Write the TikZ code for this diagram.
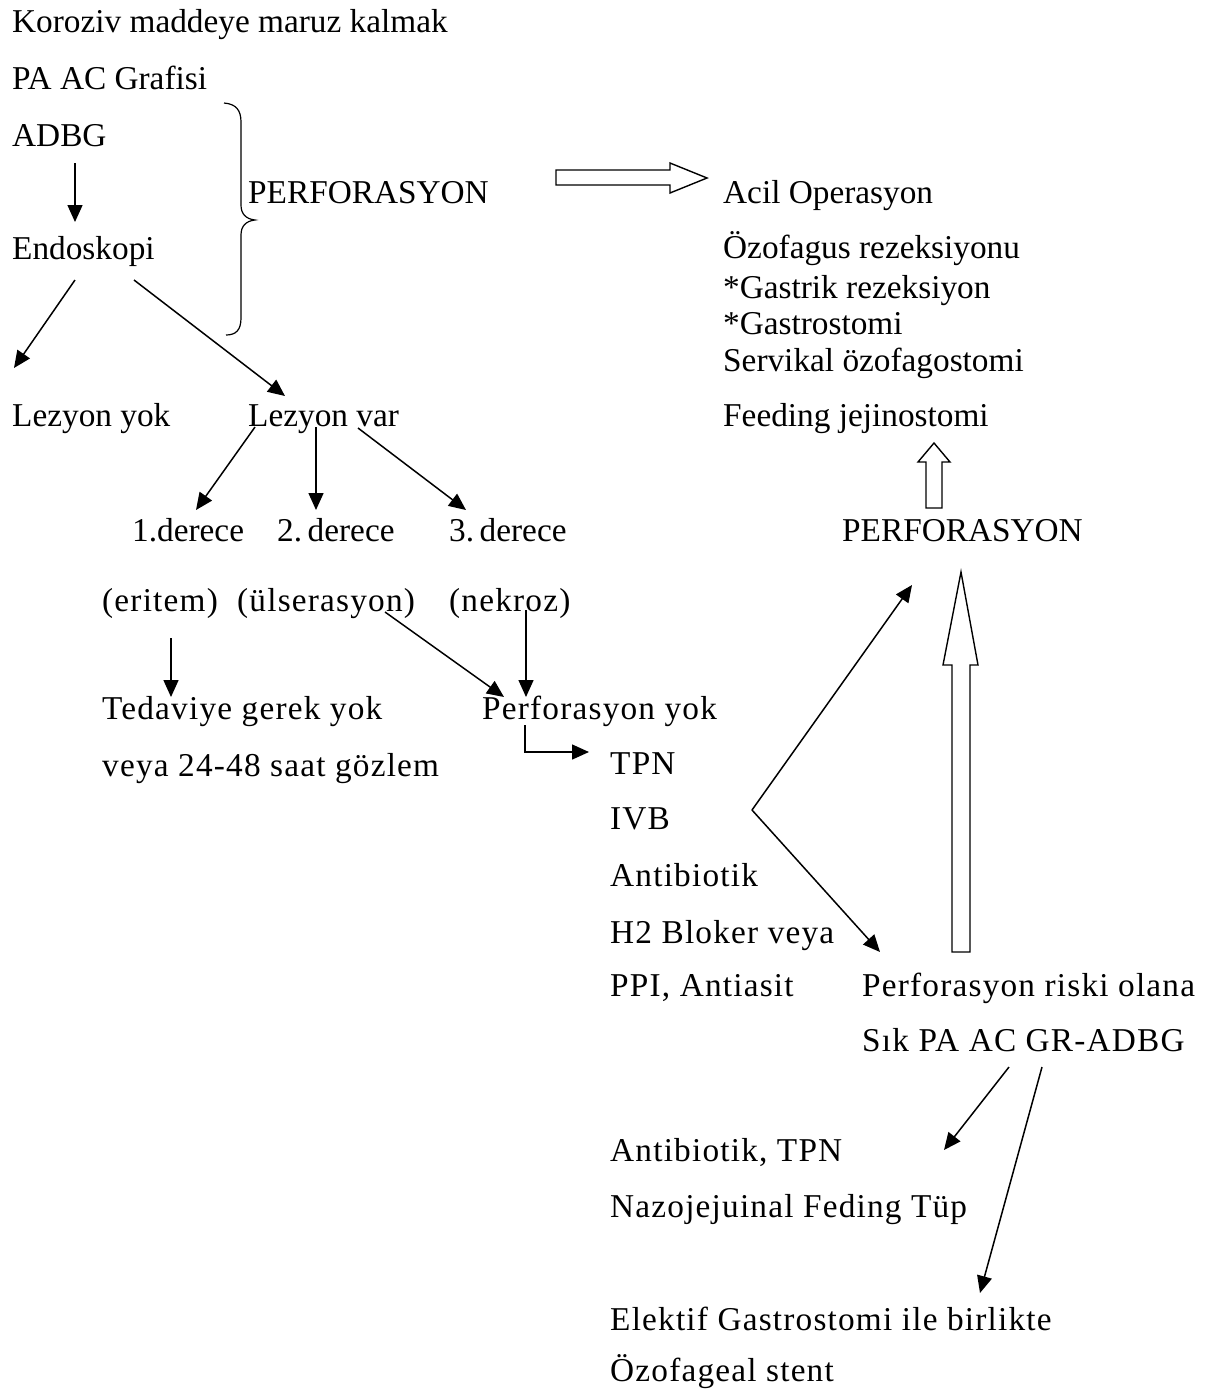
\documentclass[tikz,border=0pt]{standalone}
\usepackage{fontspec}
\setmainfont{Liberation Serif}
\usepackage{tikz}
\usetikzlibrary{calc,arrows.meta}
\tikzset{
  lbl/.style={anchor=base west,inner sep=0pt,font=\fontsize{33.3}{40}\selectfont},
  lblw/.style={lbl,font=\fontsize{33.3}{40}\selectfont\addfontfeatures{LetterSpace=3.6}},
  arr/.style={-{Triangle[length=17pt,width=15pt]},line width=1.5pt},
  hollow/.style={line width=1.4pt,fill=white,line join=miter},
  curly/.style={line width=1.2pt}
}

\begin{document}
\begin{tikzpicture}[x=1pt,y=-1pt]
  \useasboundingbox (0,0) rectangle (1211,1390);

  % First steps
  \node[lbl] (kor)  at (12,32)  {Koroziv maddeye maruz kalmak};
  \node[lbl] (pa)   at (12,89)  {PA AC Grafisi};
  \node[lbl] (adbg) at (12,146) {ADBG};
  \node[lbl] (endo) at (12,259) {Endoskopi};
  \node[lbl] (perf1) at (248,203) {PERFORASYON};

  % Brace
  \draw[curly] (224,103) .. controls (236,104) and (241,110) .. (241,122)
    -- (241,205) .. controls (241,214) and (246,219) .. (255,220)
    .. controls (246,221) and (241,226) .. (241,235)
    -- (241,318) .. controls (241,330) and (236,335) .. (226,335);

  % Emergency operation
  \node[lbl] (acil) at (723,203) {Acil Operasyon};
  \node[lbl] (ozo)  at (723,258) {Özofagus rezeksiyonu};
  \node[lbl] (gas)  at (723,298) {*Gastrik rezeksiyon};
  \node[lbl] (gsto) at (723,334) {*Gastrostomi};
  \node[lbl] (serv) at (723,371) {Servikal özofagostomi};
  \node[lbl] (feed) at (723,426) {Feeding jejinostomi};

  % Lesion
  \node[lbl] (lyok) at (12,426)  {Lezyon yok};
  \node[lbl] (lvar) at (248,426) {Lezyon var};
  \node[lbl] (d1) at (132,541) {1.derece};
  \node[lbl] (d2) at (277,541) {2.\,derece};
  \node[lbl] (d3) at (449,541) {3.\,derece};
  \node[lblw] (eri) at (102,611) {(eritem)};
  \node[lblw] (uls) at (237,611) {(ülserasyon)};
  \node[lblw] (nek) at (449,611) {(nekroz)};
  \node[lblw] (ted)  at (102,719) {Tedaviye gerek yok};
  \node[lblw] (veya) at (102,776) {veya 24-48 saat gözlem};
  \node[lblw] (pyok) at (482,719) {Perforasyon yok};

  % Treatment
  \node[lblw] (tpn)  at (610,774) {TPN};
  \node[lblw] (ivb)  at (610,829) {IVB};
  \node[lblw] (anti) at (610,886) {Antibiotik};
  \node[lblw] (h2)   at (610,943) {H2 Bloker veya};
  \node[lblw] (ppi)  at (610,996) {PPI, Antiasit};

  % Risk of perforation
  \node[lbl] (perf2) at (842,541) {PERFORASYON};
  \node[lblw] (risk) at (862,996)  {Perforasyon riski olana};
  \node[lblw] (sik)  at (862,1051) {Sık PA AC GR-ADBG};
  \node[lblw] (antitpn) at (610,1161) {Antibiotik, TPN};
  \node[lblw] (nazo) at (610,1217) {Nazojejuinal Feding Tüp};
  \node[lblw] (elek) at (610,1330) {Elektif Gastrostomi ile birlikte};
  \node[lblw] (ozst) at (610,1381) {Özofageal stent};

  % Arrows
  \draw[arr] ($(adbg.base west)+(63,17)$) -- ($(endo.base west)+(63,-37)$);
  \draw[arr] ($(endo.base west)+(63,21)$) -- ($(lyok.base west)+(2,-58)$);
  \draw[arr] ($(endo.base west)+(122,21)$) -- ($(lvar.base west)+(37,-30)$);
  \draw[arr] ($(lvar.base west)+(7,1)$) -- ($(d1.base west)+(64,-31)$);
  \draw[arr] ($(lvar.base west)+(68,1)$) -- ($(d2.base west)+(39,-31)$);
  \draw[arr] ($(lvar.base west)+(110,2)$) -- ($(d3.base west)+(17,-31)$);
  \draw[arr] ($(eri.base west)+(69,27)$) -- ($(ted.base west)+(69,-22)$);
  \draw[arr] ($(uls.base west)+(148,1)$) -- ($(pyok.base west)+(22,-22)$);
  \draw[arr] ($(nek.base west)+(77,-1)$) -- ($(pyok.base west)+(44,-22)$);
  \draw[arr] ($(pyok.base west)+(43,6)$) |- ($(tpn.base west)+(-21,-22)$);

  \coordinate (vtx) at ($(ivb.base west)+(142,-19)$);
  \draw[arr] (vtx) -- ($(perf2.base west)+(70,44)$);
  \draw[arr] (vtx) -- ($(risk.base west)+(18,-44)$);

  \draw[arr] ($(sik.base west)+(147,16)$) -- ($(antitpn.base west)+(334,-11)$);
  \draw[arr] ($(sik.base west)+(180,16)$) -- ($(elek.base west)+(370,-37)$);

  % Hollow arrows
  \draw[hollow] (556,170) -- (670,170) -- (670,163) -- (707,178)
    -- (670,193) -- (670,185) -- (556,185) -- cycle;
  \draw[hollow] (926,508) -- (926,462) -- (918,462) -- (934,443)
    -- (950,462) -- (942,462) -- (942,508) -- cycle;
  \draw[hollow] (952,952) -- (952,665) -- (943,665) -- (961,572)
    -- (978,665) -- (970,665) -- (970,952) -- cycle;
\end{tikzpicture}
\end{document}
